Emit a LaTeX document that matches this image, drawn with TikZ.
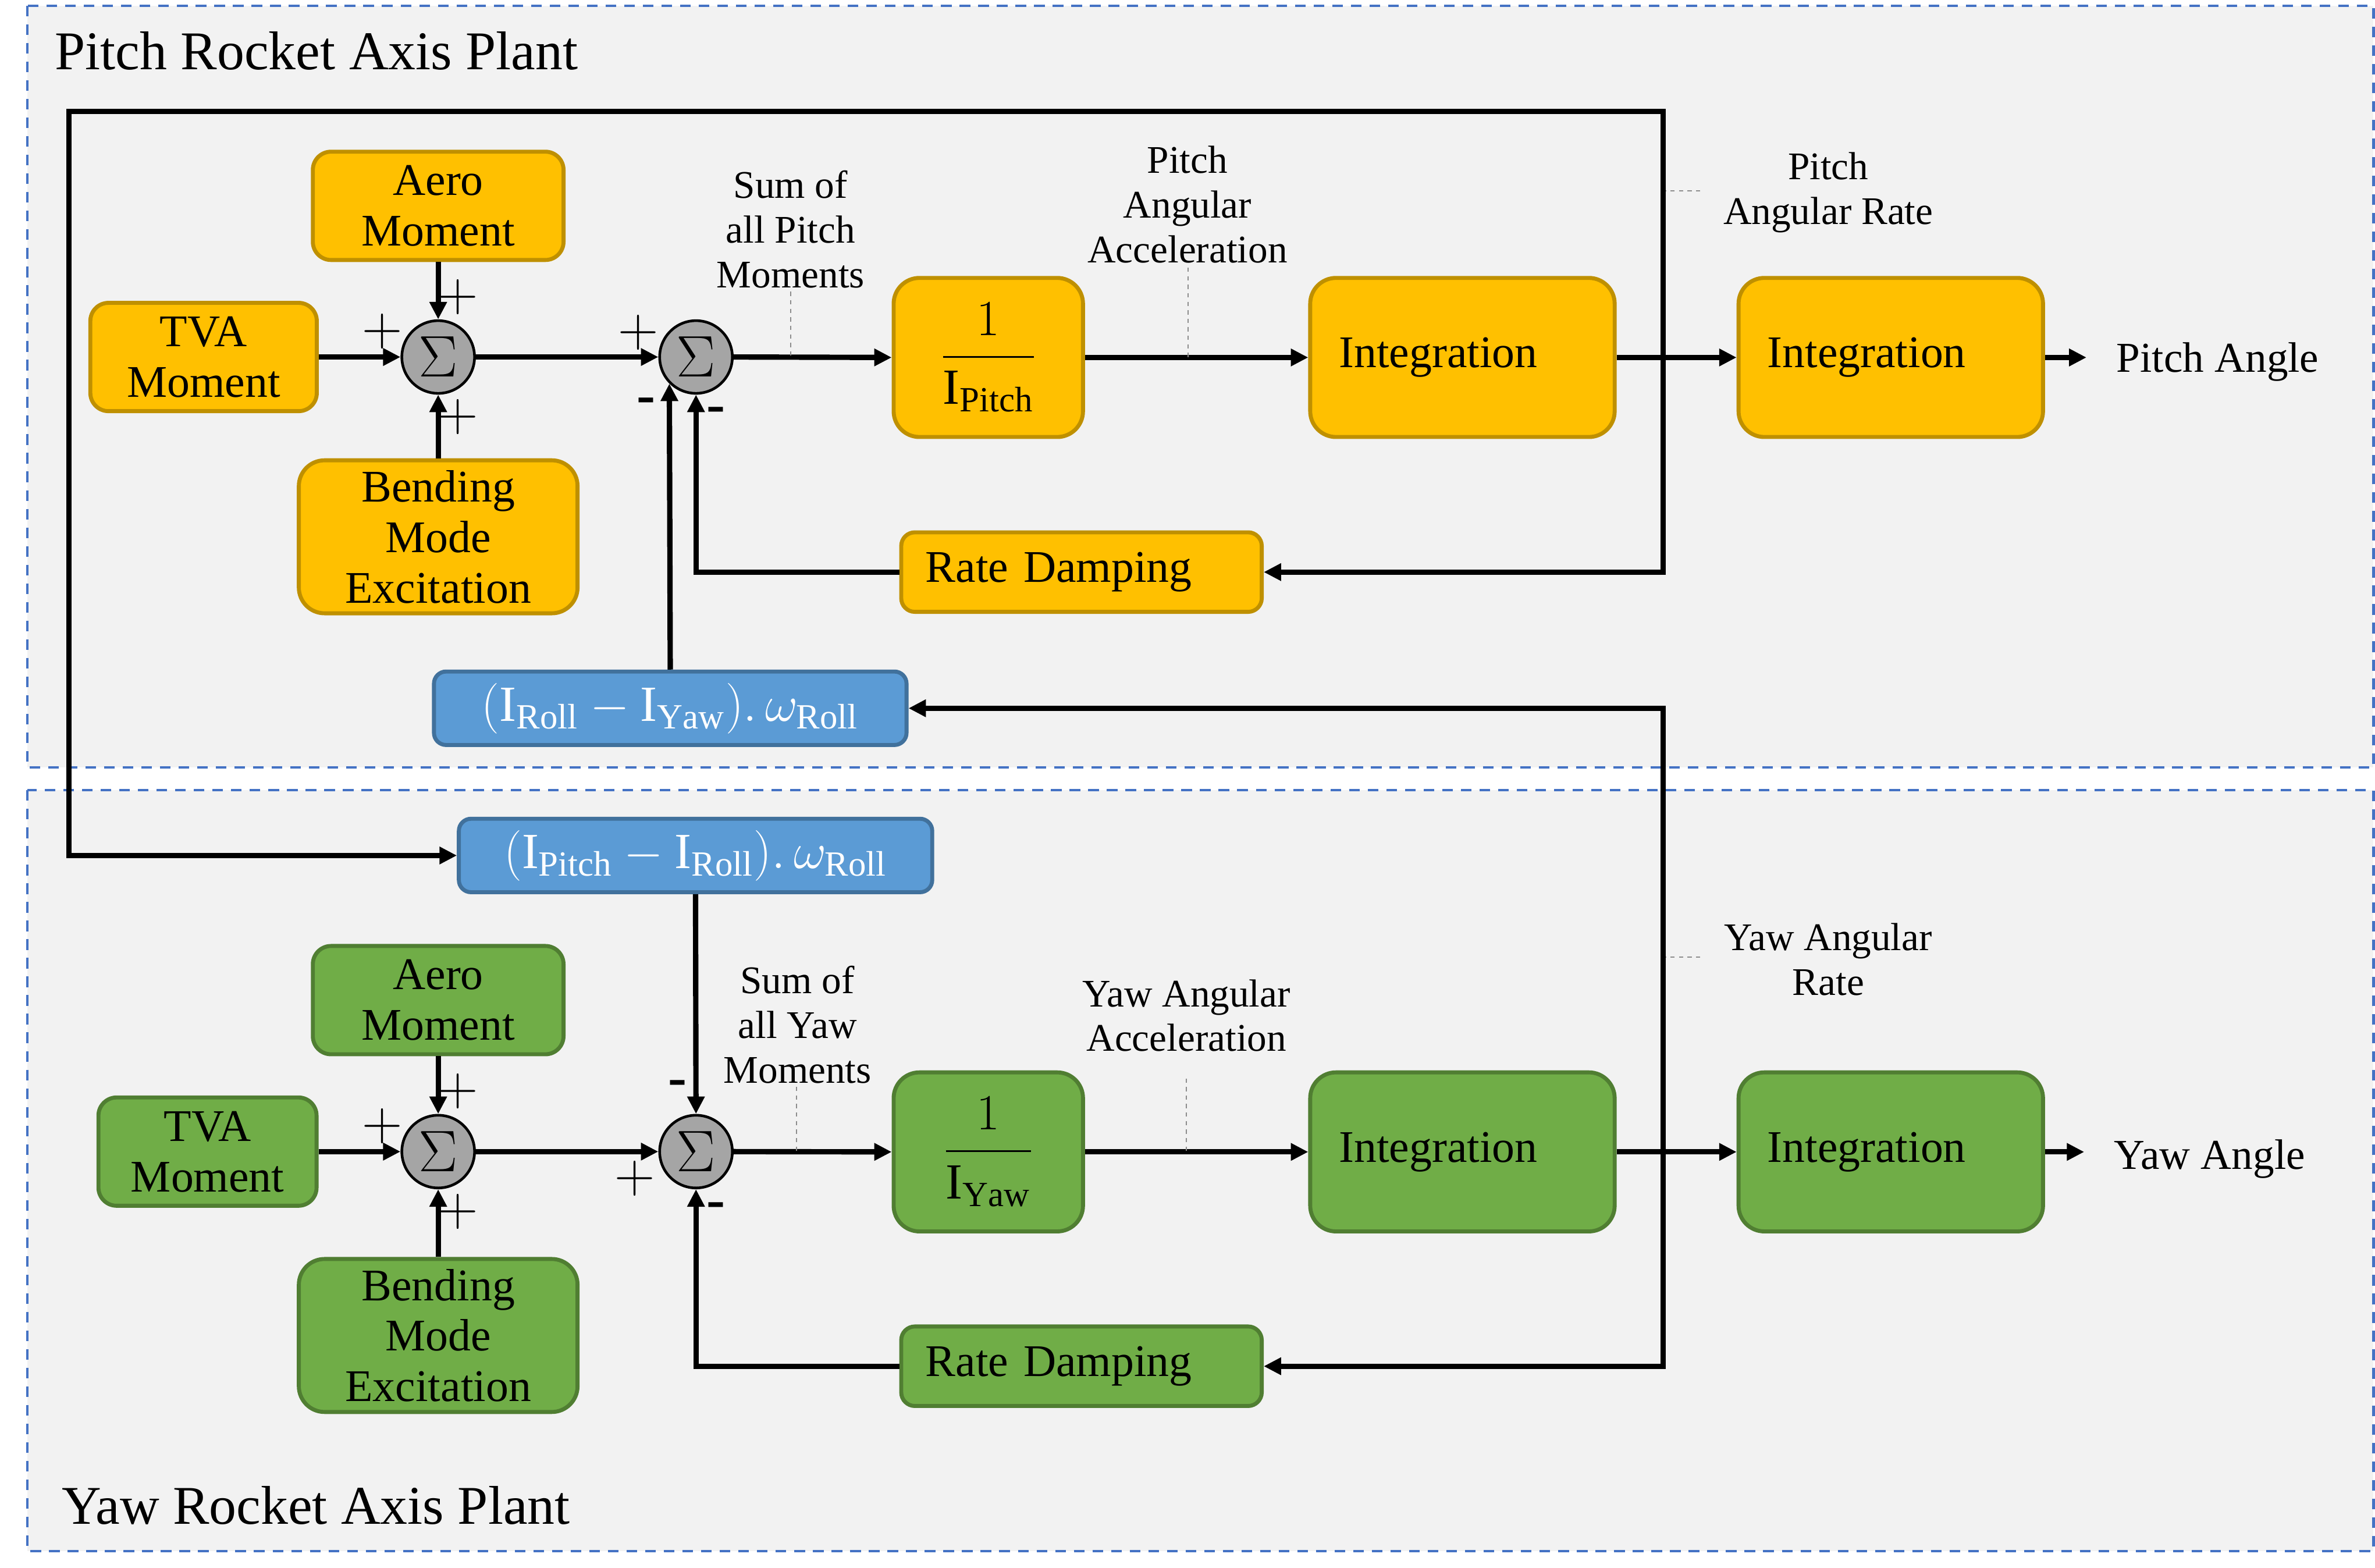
\documentclass[tikz,border=0pt]{standalone}
\usepackage{fix-cm}
\usepackage{amsmath}
\usepackage{fontspec}
\setmainfont{Liberation Serif}
\usetikzlibrary{arrows.meta}

\definecolor{panelfill}{HTML}{F2F2F2}
\definecolor{panelline}{HTML}{4472C4}
\definecolor{pitchfill}{HTML}{FFC000}
\definecolor{pitchline}{HTML}{BF9000}
\definecolor{yawfill}{HTML}{70AD47}
\definecolor{yawline}{HTML}{507E32}
\definecolor{crossfill}{HTML}{5B9BD5}
\definecolor{crossline}{HTML}{41719C}
\definecolor{sumfill}{HTML}{A5A5A5}
\definecolor{tickgray}{HTML}{8C8C8C}

\newcommand{\blkfont}{\fontsize{17}{19}\selectfont}
\newcommand{\fracfont}{\fontsize{19}{21}\selectfont}
\newcommand{\notefont}{\fontsize{14.7}{16.8}\selectfont}
\newcommand{\headfont}{\fontsize{20.5}{24}\selectfont}
\newcommand{\sgnfont}{\fontsize{21}{23}\selectfont}
\newcommand{\minfont}{\fontsize{21}{23}\selectfont\bfseries}
\newcommand{\sigmafont}{\fontsize{22}{26}\selectfont}

\tikzset{
  panel/.style={draw=panelline, fill=panelfill, line width=1pt, dash pattern=on 4pt off 3pt},
  block/.style={rounded corners=2.4mm, line width=1.5pt, align=center, inner sep=0pt, font=\blkfont},
  pblock/.style={block, draw=pitchline, fill=pitchfill},
  yblock/.style={block, draw=yawline, fill=yawfill},
  xblock/.style={block, draw=crossline, fill=crossfill, text=white, rounded corners=1.6mm,
    minimum height=9.7mm, font=\fontsize{19}{22}\selectfont},
  invblock/.style={rounded corners=3.4mm, minimum width=25mm, minimum height=21mm, font=\fracfont},
  intblock/.style={rounded corners=3.4mm, minimum height=21mm, text width=32.6mm, align=left, inner xsep=3.8mm},
  rdblock/.style={rounded corners=1.8mm, minimum height=10.5mm, text width=41.2mm, align=left, inner xsep=3.2mm},
  sumnode/.style={circle, draw=black, fill=sumfill, line width=1pt, minimum size=9.6mm, inner sep=0pt, font=\sigmafont},
  sig/.style={->, line width=2pt},
  tick/.style={draw=tickgray, line width=0.4pt, dash pattern=on 1.6pt off 1.6pt},
  note/.style={align=center, font=\notefont, inner sep=0pt},
  outtext/.style={font=\fontsize{16}{19}\selectfont, inner ysep=0pt, inner xsep=3.9mm},
  head/.style={font=\headfont, inner sep=0pt},
  sgn/.style={font=\sgnfont, inner sep=0pt},
  minus/.style={font=\minfont, inner sep=0pt}
}

\begin{document}
\begin{tikzpicture}[x=0.2mm,y=-0.2mm,>={Triangle[length=2.3mm,width=2.2mm]}]
  \fill[white] (0,0) rectangle (1568,1035);
  \useasboundingbox (0,0) rectangle (1568,1035);

  \draw[panel] (18,3.8) rectangle (1567,506.7);
  \draw[panel] (18,521.7) rectangle (1567,1024);
  \node[head, anchor=west] (titlep) at (36,33.7) {Pitch Rocket Axis Plant};
  \node[head, anchor=west] (titley) at (40.4,993.8) {Yaw Rocket Axis Plant};

  %%%% pitch axis

  \node[sumnode] (sum1p) at (289.3,235.7) {$\Sigma$};
  \node[sumnode, right of=sum1p, node distance=34.04mm] (sum2p) {$\Sigma$};
  \node[pblock, minimum width=29.9mm, minimum height=14.3mm, left of=sum1p, node distance=30.98mm] (tvap) {TVA\\Moment};
  \node[pblock, minimum width=33.1mm, minimum height=14.3mm, above of=sum1p, node distance=19.96mm] (aerop) {Aero\\Moment};
  \node[pblock, minimum width=36.8mm, minimum height=20.2mm, rounded corners=3.4mm, below of=sum1p, node distance=23.74mm] (bendp) {Bending\\Mode\\Excitation};
  \node[pblock, invblock] (invp) at (652.5,236) {$\dfrac{1}{\mathrm{I}_{\mathrm{Pitch}}}$};
  \node[pblock, intblock, right of=invp, node distance=62.6mm] (int1p) {Integration};
  \node[pblock, intblock, right of=int1p, node distance=56.56mm] (int2p) {Integration};
  \node[pblock, rdblock] (rdp) at (714,377.7) {Rate Damping};
  \node[xblock, minimum width=62.4mm] (bluep) at (442.5,467.6) {$(\mathrm{I}_{\mathrm{Roll}}-\mathrm{I}_{\mathrm{Yaw}}).\,\omega_{\mathrm{Roll}}$};
  \node[outtext, anchor=west] (anglep) at (1377.5,239) {Pitch Angle};

  \node[note] (sump) at (522,151.5) {Sum of\\all Pitch\\Moments};
  \node[note] (accp) at (784,135) {Pitch\\Angular\\Acceleration};
  \node[note] (ratep) at (1207,127) {Pitch\\Angular Rate};

  \node[sgn] (sp1) at (252.3,218.6) {$+$};
  \node[sgn] (sp2) at (302.5,196) {$+$};
  \node[sgn] (sp3) at (302.5,275.4) {$+$};
  \node[sgn] (sp4) at (421.4,219.7) {$+$};
  \node[minus] (sp5) at (426.4,267.7) {-};
  \node[minus] (sp6) at (472.5,274) {-};

  \coordinate (tapp) at (1098,236);
  \coordinate (loopr) at (1098,73.7);
  \coordinate (loopl) at (45.6,73.7);

  \draw[sig] (tvap.east) -- (sum1p.west);
  \draw[sig] (aerop.south) -- (sum1p.north);
  \draw[sig] (bendp.north) -- (sum1p.south);
  \draw[sig] (sum1p.east) -- (sum2p.west);
  \draw[sig] (sum2p.east) -- (invp.west);
  \draw[sig] (invp.east) -- (int1p.west);
  \draw[sig] (int1p.east) -- (int2p.west);
  \draw[sig] (int2p.east) -- (int2p.east -| anglep.west);
  \draw[sig] (tapp) |- (rdp.east);
  \draw[sig] (rdp.west) -| (sum2p.south);
  \draw[sig] (bluep.north) -- (sum2p.south west);

  \coordinate (tksp) at (522,192.6);
  \coordinate (tkap) at (784.5,176.7);
  \coordinate (tkrp) at (1122.5,126);
  \draw[tick] (tksp) -- (tksp |- sum2p.east);
  \draw[tick] (tkap) -- (tkap |- invp.east);
  \draw[tick] (tkrp) -- (tkrp -| tapp);

  %%%% yaw axis

  \node[sumnode] (sum1y) at (289.3,760.3) {$\Sigma$};
  \node[sumnode, right of=sum1y, node distance=34.04mm] (sum2y) {$\Sigma$};
  \node[yblock, minimum width=28.8mm, minimum height=14.3mm, left of=sum1y, node distance=30.46mm] (tvay) {TVA\\Moment};
  \node[yblock, minimum width=33.1mm, minimum height=14.3mm, above of=sum1y, node distance=20mm] (aeroy) {Aero\\Moment};
  \node[yblock, minimum width=36.8mm, minimum height=20.2mm, rounded corners=3.4mm, below of=sum1y, node distance=24.28mm] (bendy) {Bending\\Mode\\Excitation};
  \node[yblock, invblock] (invy) at (652.5,760.5) {$\dfrac{1}{\mathrm{I}_{\mathrm{Yaw}}}$};
  \node[yblock, intblock, right of=invy, node distance=62.6mm] (int1y) {Integration};
  \node[yblock, intblock, right of=int1y, node distance=56.56mm] (int2y) {Integration};
  \node[yblock, rdblock] (rdy) at (714,902) {Rate Damping};
  \node[xblock, minimum width=62.5mm] (bluey) at (459.2,564.8) {$(\mathrm{I}_{\mathrm{Pitch}}-\mathrm{I}_{\mathrm{Roll}}).\,\omega_{\mathrm{Roll}}$};
  \node[outtext, anchor=west] (angley) at (1376,765) {Yaw Angle};

  \node[note] (sumy) at (526.5,676.5) {Sum of\\all Yaw\\Moments};
  \node[note] (accy) at (783.3,670.5) {Yaw Angular\\Acceleration};
  \node[note] (ratey) at (1207,633.5) {Yaw Angular\\Rate};

  \node[sgn] (sy1) at (252.3,743.3) {$+$};
  \node[sgn] (sy2) at (302.5,720.3) {$+$};
  \node[sgn] (sy3) at (302.5,799.8) {$+$};
  \node[minus] (sy4) at (447.2,718.4) {-};
  \node[sgn] (sy5) at (419.1,777.9) {$+$};
  \node[minus] (sy6) at (472.5,799) {-};

  \coordinate (tapy) at (1098,760.5);

  \draw[sig] (tvay.east) -- (sum1y.west);
  \draw[sig] (aeroy.south) -- (sum1y.north);
  \draw[sig] (bendy.north) -- (sum1y.south);
  \draw[sig] (sum1y.east) -- (sum2y.west);
  \draw[sig] (sum2y.east) -- (invy.west);
  \draw[sig] (invy.east) -- (int1y.west);
  \draw[sig] (int1y.east) -- (int2y.west);
  \draw[sig] (int2y.east) -- (int2y.east -| angley.west);
  \draw[sig] (tapy) |- (rdy.east);
  \draw[sig] (rdy.west) -| (sum2y.south);
  \draw[sig] (bluey.south) -- (sum2y.north);

  \coordinate (tksy) at (525.8,717.6);
  \coordinate (tkay) at (783.3,712);
  \coordinate (tkry) at (1122.5,632);
  \draw[tick] (tksy) -- (tksy |- sum2y.east);
  \draw[tick] (tkay) -- (tkay |- invy.east);
  \draw[tick] (tkry) -- (tkry -| tapy);

  %%%% cross coupling

  \draw[sig] (tapp) -- (loopr) -- (loopl) |- (bluey.west);
  \draw[sig] (tapy) |- (bluep.east);

\end{tikzpicture}
\end{document}
